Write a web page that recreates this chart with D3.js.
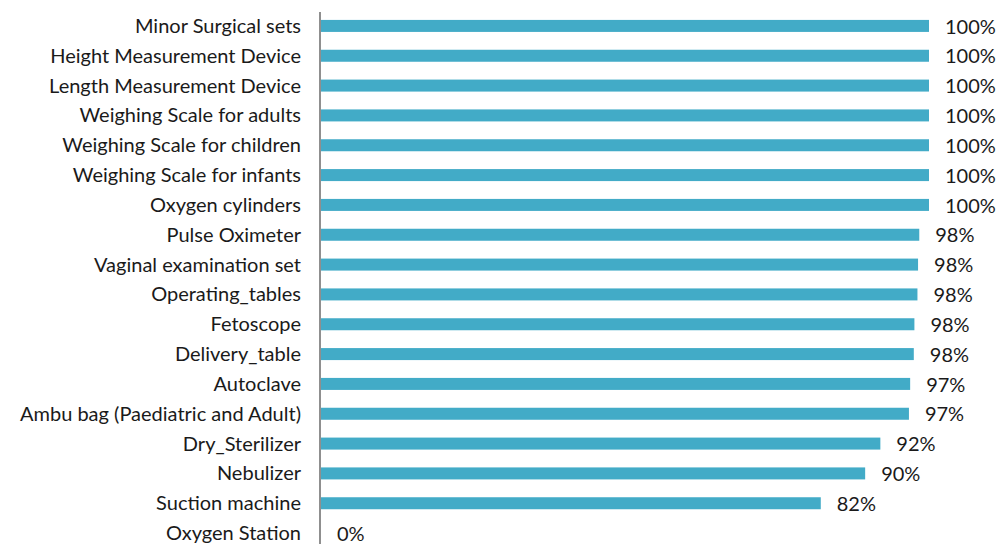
<!DOCTYPE html>
<html><head><meta charset="utf-8">
<script src="https://cdn.jsdelivr.net/npm/d3@7"></script>
<style>body{margin:0;background:#fff}svg{display:block}text{font-family:Lato, "Open Sans", sans-serif;fill:#1a1a1a}</style>
</head><body><svg id="c" width="1003" height="544"></svg>
<script>
const categories = ["Minor Surgical sets","Height Measurement Device","Length Measurement Device","Weighing Scale for adults","Weighing Scale for children","Weighing Scale for infants","Oxygen cylinders","Pulse Oximeter","Vaginal examination set","Operating_tables","Fetoscope","Delivery_table","Autoclave","Ambu bag (Paediatric and Adult)","Dry_Sterilizer","Nebulizer","Suction machine","Oxygen Station"];
const values = [100,100,100,100,100,100,100,98.4,98.2,98.1,97.6,97.5,96.9,96.7,92.0,89.5,82.2,0];
const labels = ["100%","100%","100%","100%","100%","100%","100%","98%","98%","98%","98%","98%","97%","97%","92%","90%","82%","0%"];

const svg = d3.select("#c");
const x0 = 320, x1 = 929;
const x = d3.scaleLinear().domain([0,100]).range([x0+1, x1]);
const y = d3.scaleBand().domain(categories).range([11, 548]).paddingInner(0.6).paddingOuter(0.3);

svg.append("g").selectAll("rect").data(categories).join("rect")
  .attr("x", x(0)).attr("y", d => y(d) + y.bandwidth()/2 - 6)
  .attr("width", (d,i) => Math.max(0, x(values[i]) - x(0))).attr("height", 12)
  .attr("fill", "#42abc7");

svg.append("line").attr("x1", x0).attr("x2", x0).attr("y1", 12).attr("y2", 544)
  .attr("stroke", "#8f8f8f").attr("stroke-width", 2);

svg.append("g").selectAll("text").data(categories).join("text")
  .attr("x", 301).attr("y", d => y(d) + y.bandwidth()/2).attr("dy", "0.35em")
  .attr("text-anchor", "end").attr("font-size", 20).text(d => d);

svg.append("g").selectAll("text").data(categories).join("text")
  .attr("x", (d,i) => x(values[i]) + 16).attr("y", d => y(d) + y.bandwidth()/2).attr("dy", "0.38em")
  .attr("font-size", 20).text((d,i) => labels[i]);
</script></body></html>
